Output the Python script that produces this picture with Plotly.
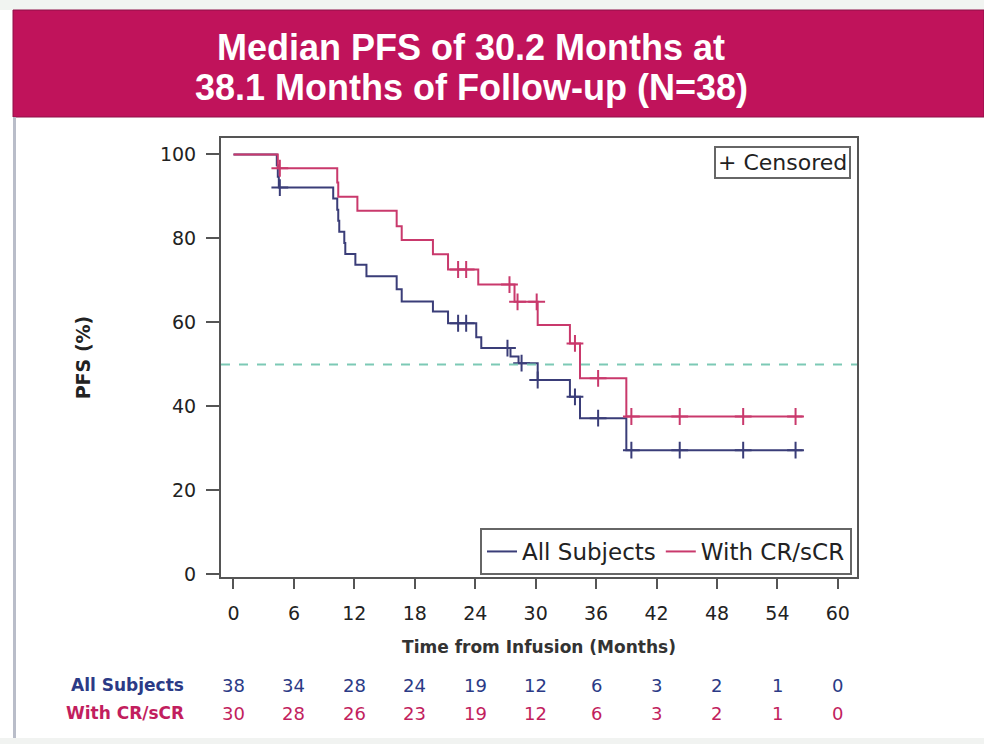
import plotly.graph_objects as go

# Kaplan-Meier step data (months, PFS %)
all_t = [0, 4.3, 4.4, 4.5, 9.9, 10.3, 10.4, 10.5, 11.0, 11.1, 12.1, 13.2, 16.2, 16.7,
         19.8, 21.3, 24.1, 24.6, 27.5, 28.3, 30.2, 33.4, 34.4, 39.0, 56.5]
all_s = [100, 97.4, 94.7, 92.1, 89.5, 86.8, 84.2, 81.6, 78.9, 76.3, 73.7, 71.0, 67.9, 65.0,
         62.6, 59.8, 56.5, 53.9, 51.9, 50.3, 46.3, 42.3, 37.2, 29.6, 29.6]
all_cens = [4.6, 22.3, 23.1, 27.2, 28.6, 30.2, 33.9, 36.2, 39.5, 44.3, 50.6, 55.8]

cr_t = [0, 4.4, 10.3, 10.4, 12.3, 16.2, 16.7, 19.8, 21.3, 24.3, 27.9, 30.2, 33.4, 34.4, 39.0, 56.5]
cr_s = [100, 96.7, 93.3, 89.9, 86.6, 82.9, 79.6, 76.2, 72.6, 69.0, 64.9, 59.4, 55.0, 46.7, 37.6, 37.6]
cr_cens = [4.6, 22.3, 23.1, 27.4, 28.2, 30.1, 33.9, 36.2, 39.5, 44.3, 50.6, 55.8]

x_ticks = [0, 6, 12, 18, 24, 30, 36, 42, 48, 54, 60]
at_risk_all = [38, 34, 28, 24, 19, 12, 6, 3, 2, 1, 0]
at_risk_cr = [30, 28, 26, 23, 19, 12, 6, 3, 2, 1, 0]

BLUE = "#3A3D78"
RED = "#C9396C"
MAGENTA = "#C0135B"
TXT_BLUE = "#2B3A86"
TXT_RED = "#C21E5E"
SANS = "DejaVu Sans"

# plot-area pixel frame
L, R, T, B = 221, 857, 138, 577
W, H = R - L, B - T


def px(x):
    return (x - L) / W


def py(y):
    return (B - y) / H


def step_value(times, surv, t):
    v = surv[0]
    for ti, si in zip(times, surv):
        if ti <= t:
            v = si
    return v


fig = go.Figure()

for name, t, s, col in [("All Subjects", all_t, all_s, BLUE),
                        ("With CR/sCR", cr_t, cr_s, RED)]:
    fig.add_trace(go.Scatter(x=t, y=s, mode="lines", line_shape="hv", name=name,
                             line=dict(color=col, width=2)))
for t, s, cens, col in [(all_t, all_s, all_cens, BLUE), (cr_t, cr_s, cr_cens, RED)]:
    fig.add_trace(go.Scatter(x=cens, y=[step_value(t, s, c) for c in cens], mode="markers",
                             showlegend=False,
                             marker=dict(symbol="cross-thin-open", size=12, color=col,
                                         line=dict(color=col, width=2))))

# median reference line
fig.add_shape(type="line", xref="paper", yref="y", x0=0, x1=1, y0=50, y1=50,
              line=dict(color="#7CC9B5", width=2, dash="dash"))

shapes = [
    # page backdrop strip and header band
    dict(type="rect", xref="paper", yref="paper", x0=px(0), x1=px(984), y0=py(0), y1=py(10),
         fillcolor="#F1F4F1", line_width=0, layer="below"),
    dict(type="rect", xref="paper", yref="paper", x0=px(13), x1=px(984), y0=py(117), y1=py(10),
         fillcolor=MAGENTA, line=dict(color="#8E1048", width=1), layer="below"),
    dict(type="line", xref="paper", yref="paper", x0=px(14.5), x1=px(14.5), y0=py(117), y1=py(744),
         line=dict(color="#B9BDC9", width=3), layer="below"),
    dict(type="rect", xref="paper", yref="paper", x0=px(0), x1=px(984), y0=py(744), y1=py(738),
         fillcolor="#F1F3F1", line_width=0, layer="below"),
]
for sh in shapes:
    fig.add_shape(**sh)

for text, yc in [("<b>Median PFS of 30.2 Months at</b>", 47),
                 ("<b>38.1 Months of Follow-up (N=38)</b>", 88)]:
    fig.add_annotation(xref="paper", yref="paper", x=px(471), y=py(yc), xanchor="center",
                       yanchor="middle", text=text, showarrow=False,
                       font=dict(family="Liberation Sans", size=36, color="white"))

fig.add_annotation(xref="paper", yref="paper", x=px(851), y=py(146), xanchor="right", yanchor="top",
                   text="+ Censored", showarrow=False, bgcolor="white", bordercolor="#666",
                   borderwidth=2, borderpad=2, font=dict(family=SANS, size=22, color="#222"))

# number at risk table
for label, yc, col in [("All Subjects", 685, TXT_BLUE), ("With CR/sCR", 713, TXT_RED)]:
    fig.add_annotation(xref="paper", yref="paper", x=px(186), y=py(yc), xanchor="right",
                       yanchor="middle", text="<b>" + label + "</b>", showarrow=False,
                       font=dict(family=SANS, size=17, color=col))
for xt, a1, a2 in zip(x_ticks, at_risk_all, at_risk_cr):
    for val, yc, col in [(a1, 685, TXT_BLUE), (a2, 713, TXT_RED)]:
        fig.add_annotation(xref="x", yref="paper", x=xt, y=py(yc), xanchor="center",
                           yanchor="middle", text=str(val), showarrow=False,
                           font=dict(family=SANS, size=18, color=col))

fig.update_layout(
    width=984, height=744,
    margin=dict(l=L, r=984 - R, t=T, b=744 - B),
    paper_bgcolor="white", plot_bgcolor="white",
    font=dict(family=SANS, color="#222"),
    showlegend=True,
    legend=dict(orientation="h", x=px(852), xanchor="right", y=py(575), yanchor="bottom",
                bgcolor="white", bordercolor="#666", borderwidth=2,
                font=dict(family=SANS, size=23, color="#222"),
                itemwidth=30, tracegroupgap=0),
)
fig.update_xaxes(range=[-1.24, 61.9], tickvals=x_ticks, showline=True, mirror=True,
                 linecolor="#555", linewidth=2, ticks="outside", ticklen=10, tickwidth=2,
                 tickcolor="#555", showgrid=False, zeroline=False,
                 tickfont=dict(family=SANS, size=19, color="#222"), ticklabelstandoff=8,
                 title=dict(text="<b>Time from Infusion (Months)</b>", standoff=18,
                            font=dict(family=SANS, size=17, color="#333")))
fig.update_yaxes(range=[-0.6, 103.9], tickvals=[0, 20, 40, 60, 80, 100], showline=True, mirror=True,
                 linecolor="#555", linewidth=2, ticks="outside", ticklen=13, tickwidth=2,
                 tickcolor="#555", showgrid=False, zeroline=False,
                 tickfont=dict(family=SANS, size=19, color="#222"), ticklabelstandoff=6,
                 title=dict(text="<b>PFS (%)</b>", standoff=64,
                            font=dict(family=SANS, size=19, color="#222")))

fig.write_html("out.html")
